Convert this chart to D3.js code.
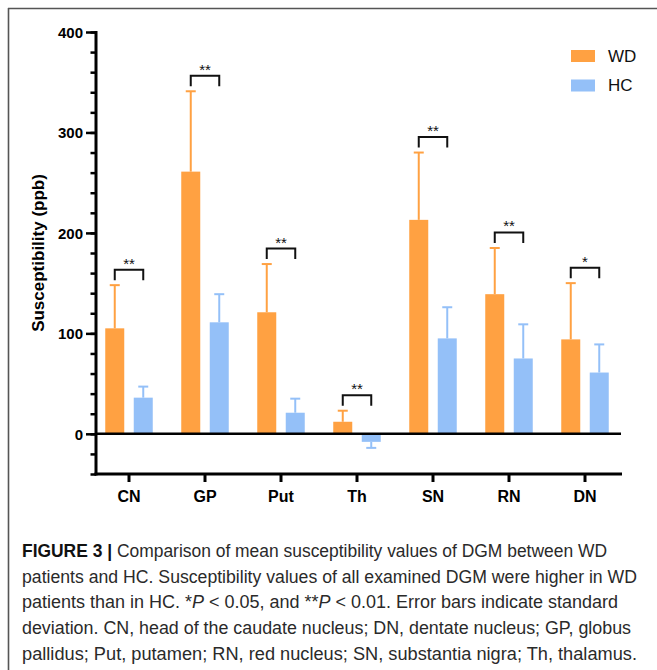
<!DOCTYPE html>
<html>
<head>
<meta charset="utf-8">
<script src="https://cdn.jsdelivr.net/npm/d3@7"></script>
<style>
  body { margin: 0; background: #fff; }
  svg { display: block; font-family: "Liberation Sans", Arial, sans-serif; }
</style>
</head>
<body>
<div id="chart"></div>
<script>
// Regions and the two groups.
var regions = ["CN", "GP", "Put", "Th", "SN", "RN", "DN"];
var groups = ["WD", "HC"];
// Mean susceptibility (ppb) and standard deviation.
var wdMean = [105, 261, 121, 12, 213, 139, 94];
var wdSd = [43, 80, 48, 11, 67, 46, 56];
var hcMean = [36, 111, 21, -8, 95, 75, 61];
var hcSd = [11, 28, 14, -6, 31, 34, 28];
// Significance marks.
var signif = ["**", "**", "**", "**", "**", "**", "*"];
var yTicks = [0, 100, 200, 300, 400];

var colors = { "WD": "#ffa142", "HC": "#94c0f8" };

var width = 657, height = 670;

var svg = d3.select("#chart").append("svg")
    .attr("width", width)
    .attr("height", height);

// Frame (top and left rules).
svg.append("line").attr("x1", 8).attr("x2", width).attr("y1", 8.5).attr("y2", 8.5)
    .attr("stroke", "#555").attr("stroke-width", 1.6);
svg.append("line").attr("x1", 8.5).attr("x2", 8.5).attr("y1", 8).attr("y2", height)
    .attr("stroke", "#555").attr("stroke-width", 1.6);

var y = d3.scaleLinear().domain([-40, 400]).range([474, 32]);
var x = d3.scaleBand().domain(regions).range([91, 623]);
var sub = d3.scaleBand().domain(groups).range([-23.75, 23.75]).paddingInner(1 / 3);

var rows = regions.map(function(r, i) {
  return { region: r, WD: wdMean[i], WDsd: wdSd[i], HC: hcMean[i], HCsd: hcSd[i], sig: signif[i] };
});

var g = svg.append("g");

// Bars.
var bars = [];
rows.forEach(function(d) {
  groups.forEach(function(k) {
    bars.push({ region: d.region, key: k, v: d[k], sd: d[k + "sd"] });
  });
});
function cx(d) { return x(d.region) + x.bandwidth() / 2 + sub(d.key) + sub.bandwidth() / 2; }

// Error bars (one-sided, away from zero).
var eb = g.selectAll(".err").data(bars).enter().append("g").attr("class", "err")
    .attr("stroke", function(d) { return colors[d.key]; })
    .attr("stroke-width", 2);
eb.append("line")
    .attr("x1", cx).attr("x2", cx)
    .attr("y1", function(d) { return y(d.v); })
    .attr("y2", function(d) { return y(d.v + d.sd); });
eb.append("line")
    .attr("x1", function(d) { return cx(d) - 5; })
    .attr("x2", function(d) { return cx(d) + 5; })
    .attr("y1", function(d) { return y(d.v + d.sd); })
    .attr("y2", function(d) { return y(d.v + d.sd); });

g.selectAll(".bar").data(bars).enter().append("rect")
    .attr("class", "bar")
    .attr("x", function(d) { return x(d.region) + x.bandwidth() / 2 + sub(d.key); })
    .attr("width", sub.bandwidth())
    .attr("y", function(d) { return y(Math.max(0, d.v)); })
    .attr("height", function(d) { return Math.abs(y(d.v) - y(0)); })
    .attr("fill", function(d) { return colors[d.key]; });

// Significance brackets.
var br = g.selectAll(".sig").data(rows).enter().append("g").attr("class", "sig");
function brTop(d) { return y(d.WD + d.WDsd) - 15.5; }
function xW(d) { return x(d.region) + x.bandwidth() / 2 + sub("WD") + sub.bandwidth() / 2; }
function xH(d) { return x(d.region) + x.bandwidth() / 2 + sub("HC") + sub.bandwidth() / 2; }
br.append("path")
    .attr("d", function(d) {
      var t = brTop(d);
      return "M" + xW(d) + "," + (t + 10.5) + "V" + t + "H" + xH(d) + "V" + (t + 10.5);
    })
    .attr("fill", "none").attr("stroke", "#111").attr("stroke-width", 2);
br.append("text")
    .attr("x", function(d) { return x(d.region) + x.bandwidth() / 2; })
    .attr("y", function(d) { return brTop(d) - 1; })
    .attr("text-anchor", "middle")
    .style("font-size", "15px")
    .style("fill", "#111")
    .text(function(d) { return d.sig; });

// Zero line.
g.append("line")
    .attr("x1", 96).attr("x2", 621)
    .attr("y1", y(0)).attr("y2", y(0))
    .attr("stroke", "#000").attr("stroke-width", 2.5);

// Y axis: minor ticks every 20, labelled major ticks every 100.
var yAxisG = svg.append("g").attr("transform", "translate(96,0)");
yAxisG.call(d3.axisLeft(y).tickValues(d3.range(-40, 401, 20)).tickSize(5.5).tickFormat(""));
yAxisG.call(function(s) {
  s.selectAll(".tick line").attr("stroke-width", 2.5);
  s.select(".domain").remove();
});
var yMajor = svg.append("g").attr("transform", "translate(96,0)")
    .call(d3.axisLeft(y).tickValues(yTicks).tickSize(10).tickPadding(3));
yMajor.select(".domain").remove();
yMajor.selectAll(".tick line").attr("stroke-width", 2.5);
yMajor.selectAll(".tick text")
    .style("font-size", "15px").style("font-weight", "bold")
    .attr("dy", "0.36em").style("fill", "#000");
svg.append("line").attr("x1", 96).attr("x2", 96).attr("y1", y(400) - 1).attr("y2", y(-40) + 1.5)
    .attr("stroke", "#000").attr("stroke-width", 3);

// X axis.
var xAxisG = svg.append("g").attr("transform", "translate(0," + y(-40) + ")")
    .call(d3.axisBottom(x).tickSize(8).tickPadding(9));
xAxisG.select(".domain").remove();
xAxisG.selectAll(".tick line").attr("stroke-width", 3);
xAxisG.selectAll(".tick text")
    .style("font-size", "16px").style("font-weight", "bold").style("fill", "#000");
svg.append("line").attr("x1", 94.5).attr("x2", 622).attr("y1", y(-40)).attr("y2", y(-40))
    .attr("stroke", "#000").attr("stroke-width", 3);

// Y title.
svg.append("text")
    .attr("transform", "translate(44,253) rotate(-90)")
    .attr("text-anchor", "middle")
    .style("font-size", "17px").style("font-weight", "bold")
    .text("Susceptibility (ppb)");

// Legend.
var lg = svg.append("g").attr("transform", "translate(571,50)");
var li = lg.selectAll("g").data(groups).enter().append("g")
    .attr("transform", function(d, i) { return "translate(0," + i * 29.5 + ")"; });
li.append("rect").attr("width", 24).attr("height", 12)
    .attr("fill", function(d) { return colors[d]; });
li.append("text").attr("x", 37).attr("y", 11.5)
    .style("font-size", "17px").style("fill", "#111")
    .text(function(d) { return d; });

// Caption.
var cap = svg.append("g").style("font-size", "17.5px").style("fill", "#2a2a2a");
var lines = [
  [["b", "FIGURE 3 | "], ["", "Comparison of mean susceptibility values of DGM between WD"]],
  [["", "patients and HC. Susceptibility values of all examined DGM were higher in WD"]],
  [["", "patients than in HC. *"], ["i", "P"], ["", " < 0.05, and **"], ["i", "P"], ["", " < 0.01. Error bars indicate standard"]],
  [["", "deviation. CN, head of the caudate nucleus; DN, dentate nucleus; GP, globus"]],
  [["", "pallidus; Put, putamen; RN, red nucleus; SN, substantia nigra; Th, thalamus."]]
];
var lineEnds = [607, 637, 618, 631, 637];
lines.forEach(function(parts, i) {
  var t = cap.append("text").attr("x", 22).attr("y", 557 + i * 25.7);
  parts.forEach(function(p) {
    var s = t.append("tspan").text(p[1]);
    if (p[0] === "b") s.style("font-weight", "bold").style("fill", "#111");
    if (p[0] === "i") s.style("font-style", "italic");
  });
  t.attr("textLength", lineEnds[i] - 22).attr("lengthAdjust", "spacingAndGlyphs");
});
</script>
</body>
</html>
